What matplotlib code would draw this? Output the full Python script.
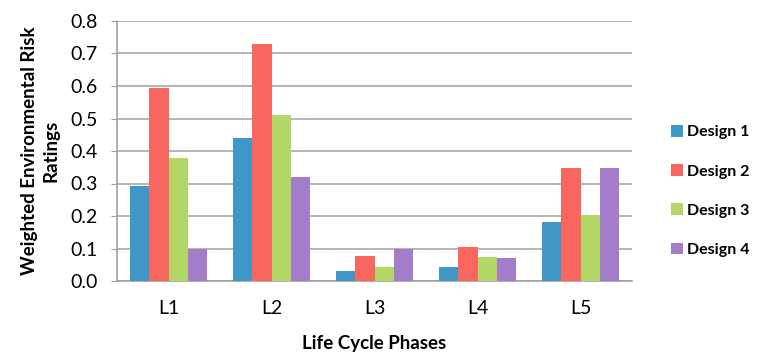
import numpy as np
import matplotlib.pyplot as plt

plt.rcParams['font.family'] = ['Lato', 'DejaVu Sans']

phases = ['L1', 'L2', 'L3', 'L4', 'L5']
design1 = [0.291, 0.440, 0.031, 0.044, 0.182]
design2 = [0.594, 0.730, 0.078, 0.104, 0.348]
design3 = [0.377, 0.512, 0.043, 0.075, 0.203]
design4 = [0.100, 0.319, 0.097, 0.071, 0.348]
labels = ['Design 1', 'Design 2', 'Design 3', 'Design 4']
colors = ['#3F97C8', '#F8675F', '#B2D766', '#A47DCA']

fig = plt.figure(figsize=(7.64, 3.55), dpi=100)
ax = fig.add_axes([117 / 764, 1 - 281 / 355, (632 - 117) / 764, (281 - 21) / 355])

x = np.arange(len(phases))
w = 0.185
for i, vals in enumerate([design1, design2, design3, design4]):
    ax.bar(x + (i - 1.5) * w, vals, w, color=colors[i], label=labels[i], zorder=3)

ax.set_xlim(-0.5, 4.5)
ax.set_ylim(0, 0.8)
ax.set_yticks(np.arange(0, 0.81, 0.1))
ax.set_yticklabels(['%.1f' % v for v in np.arange(0, 0.81, 0.1)], fontsize=14)
ax.set_xticks(x)
ax.set_xticklabels(phases, fontsize=14)
ax.tick_params(axis='x', length=0, pad=14)
ax.tick_params(axis='y', length=4, color='#A0A0A0', pad=10)
ax.grid(axis='y', color='#A8A8A8', linewidth=1.2, zorder=0)
for s in ['top', 'right']:
    ax.spines[s].set_visible(False)
ax.spines['left'].set_color('#A0A0A0')
ax.spines['bottom'].set_color('#A0A0A0')
ax.spines['left'].set_linewidth(1.2)
ax.spines['bottom'].set_linewidth(1.2)

ax.set_xlabel('Life Cycle Phases', fontsize=13.5, fontweight='bold', labelpad=13)
ax.set_ylabel('Weighted Environmental Risk\nRatings', fontsize=13.5, fontweight='bold', labelpad=8,
              linespacing=1.3)

leg = fig.legend(loc='center left', bbox_to_anchor=(671 / 764, 1 - 191 / 355), frameon=False,
                 fontsize=11.5, handlelength=0.75, handleheight=0.75, labelspacing=1.55,
                 handletextpad=0.25, borderpad=0, borderaxespad=0)
for t in leg.get_texts():
    t.set_fontweight('bold')

fig.savefig('out.png', dpi=100)
